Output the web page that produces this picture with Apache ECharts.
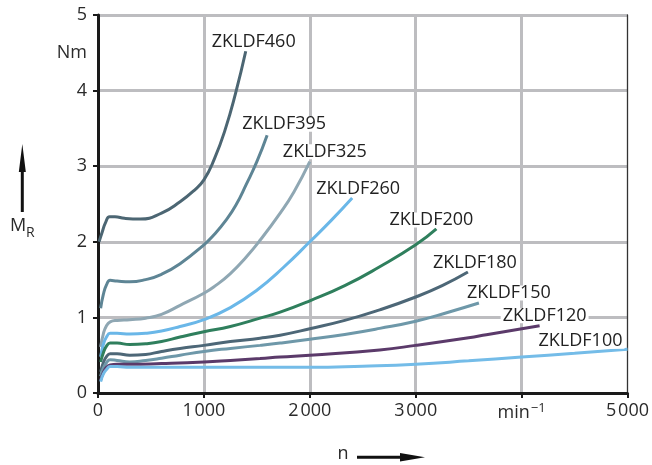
<!DOCTYPE html>
<html><head><meta charset="utf-8">
<script src="https://cdn.jsdelivr.net/npm/echarts@6/dist/echarts.min.js"></script>
<style>html,body{margin:0;padding:0;background:#fff}#c{width:652px;height:465px}</style>
</head><body><div id="c"></div>
<script>
// ---- data ----
const seriesNames = ['ZKLDF460','ZKLDF395','ZKLDF325','ZKLDF260','ZKLDF200','ZKLDF180','ZKLDF150','ZKLDF120','ZKLDF100'];
const n460 = [10, 40, 70, 110, 160, 250, 400, 600, 775, 900, 1000, 1100, 1200, 1300, 1395];
const m460 = [2.0, 2.13, 2.25, 2.33, 2.33, 2.31, 2.30, 2.38, 2.53, 2.67, 2.82, 3.10, 3.48, 3.97, 4.52];
const n395 = [25, 50, 80, 115, 180, 300, 450, 600, 775, 1000, 1100, 1200, 1300, 1400, 1500, 1597];
const m395 = [1.12, 1.30, 1.43, 1.49, 1.48, 1.47, 1.50, 1.57, 1.71, 1.96, 2.10, 2.27, 2.48, 2.76, 3.06, 3.41];
const n325 = [25, 50, 80, 115, 180, 300, 450, 600, 775, 1000, 1100, 1250, 1400, 1530, 1720, 1850, 2000];
const m325 = [0.61, 0.78, 0.89, 0.94, 0.96, 0.97, 0.99, 1.04, 1.16, 1.32, 1.41, 1.58, 1.80, 2.02, 2.38, 2.66, 3.06];
const n260 = [25, 50, 80, 115, 180, 300, 450, 600, 775, 1000, 1250, 1500, 1750, 2000, 2200, 2400];
const m260 = [0.48, 0.64, 0.74, 0.79, 0.79, 0.78, 0.79, 0.82, 0.88, 0.97, 1.13, 1.36, 1.66, 2.00, 2.28, 2.58];
const n200 = [25, 50, 80, 115, 180, 300, 450, 600, 775, 1000, 1250, 1530, 1720, 2000, 2330, 2660, 3000, 3195];
const m200 = [0.41, 0.53, 0.62, 0.66, 0.66, 0.64, 0.65, 0.68, 0.74, 0.81, 0.88, 0.99, 1.07, 1.22, 1.42, 1.67, 1.96, 2.17];
const n180 = [25, 50, 80, 115, 180, 300, 450, 600, 775, 1000, 1250, 1530, 1720, 2000, 2330, 2660, 3000, 3250, 3493];
const m180 = [0.28, 0.40, 0.48, 0.52, 0.52, 0.50, 0.51, 0.55, 0.59, 0.63, 0.68, 0.725, 0.765, 0.85, 0.96, 1.10, 1.27, 1.42, 1.60];
const n150 = [25, 50, 80, 115, 180, 300, 450, 600, 775, 1000, 1250, 1530, 1720, 2000, 2330, 2660, 3000, 3300, 3597];
const m150 = [0.22, 0.33, 0.40, 0.44, 0.43, 0.41, 0.43, 0.46, 0.50, 0.55, 0.59, 0.63, 0.66, 0.71, 0.775, 0.855, 0.95, 1.065, 1.19];
const n120 = [25, 50, 80, 115, 180, 300, 600, 1000, 1250, 1530, 1720, 2000, 2660, 3000, 3500, 3667, 4170];
const m120 = [0.17, 0.27, 0.34, 0.37, 0.38, 0.38, 0.39, 0.41, 0.43, 0.455, 0.475, 0.50, 0.57, 0.63, 0.73, 0.77, 0.89];
const n100 = [25, 50, 80, 115, 180, 300, 600, 1000, 1500, 2000, 2500, 3000, 3500, 4000, 4500, 5000];
const m100 = [0.15, 0.25, 0.31, 0.35, 0.35, 0.34, 0.34, 0.34, 0.34, 0.34, 0.355, 0.38, 0.425, 0.475, 0.525, 0.58];
const nValues = [n460, n395, n325, n260, n200, n180, n150, n120, n100];
const mValues = [m460, m395, m325, m260, m200, m180, m150, m120, m100];
const xTickValues = [0, 1000, 2000, 3000, 4000, 5000];
const yTickValues = [0, 1, 2, 3, 4, 5];
const yLabelValues = [0, 1, 2, 3, 4, 4.5, 5];

// ---- style ----
const colors = ['#4c6673','#5e8595','#8fa7b3','#6ab7e8','#2f7f5d','#4d6777','#6e98a9','#5b3a6a','#74bce8'];
const labelOffsets = [[8,-9],[17,-11],[15,-10],[6,-9],[-5,-9],[7,-9],[30,-10],[5,-10],[-47,-8]];
const FONT = 'Open Sans';

const series = seriesNames.map((name, k) => {
  const ns = nValues[k], ms = mValues[k];
  const last = ns.length - 1;
  return {
    name, type: 'line', smooth: 0.5, symbol: 'none', showSymbol: false,
    lineStyle: { color: colors[k], width: 3 },
    data: ns.map((x, i) => [x, ms[i]]),
    markPoint: {
      silent: true, symbol: 'circle', symbolSize: 0,
      data: [{ coord: [ns[last], ms[last]] }],
      label: {
        show: true, formatter: name, position: 'inside', offset: labelOffsets[k],
        color: '#222', fontSize: 18, fontFamily: FONT, textBorderWidth: 0,
        backgroundColor: '#fff', padding: [0, 2], lineHeight: 15
      }
    }
  };
});

const chart = echarts.init(document.getElementById('c'));
chart.setOption({
  animation: false,
  backgroundColor: '#fff',
  grid: { left: 98, right: 24, top: 15, bottom: 72, containLabel: false },
  xAxis: {
    type: 'value', min: 0, max: 5000, interval: 1000,
    axisLine: { show: true, onZero: false, lineStyle: { color: '#1a1a1a', width: 3 } },
    axisTick: { show: true, length: 5, lineStyle: { color: '#1a1a1a', width: 2 }, customValues: xTickValues },
    axisLabel: {
      margin: 9, fontSize: 18, fontFamily: FONT, color: '#2a2a2a', customValues: xTickValues,
      formatter: v => v === 4000 ? 'min{s|\u22121}' : String(v).replace(/(\d)(\d{3})$/, '$1\u200A$2'),
      rich: { s: { fontSize: 13, fontFamily: FONT, color: '#2a2a2a', verticalAlign: 'top', padding: [0, 0, 8, 1] } }
    },
    splitLine: { show: true, showMinLine: false, showMaxLine: false, lineStyle: { color: '#bdbdc0', width: 3 } }
  },
  yAxis: [{
    type: 'value', min: 0, max: 5, interval: 1,
    axisLine: { show: true, onZero: false, lineStyle: { color: '#1a1a1a', width: 3 } },
    axisTick: { show: true, length: 5, lineStyle: { color: '#1a1a1a', width: 2 }, customValues: yTickValues },
    axisLabel: {
      margin: 11, fontSize: 18, fontFamily: FONT, color: '#2a2a2a', customValues: yLabelValues,
      formatter: v => v === 4.5 ? 'Nm' : String(v)
    },
    splitLine: { show: true, showMinLine: false, showMaxLine: true, lineStyle: { color: '#bdbdc0', width: 3 } }
  }, {
    type: 'value', min: 0, max: 5, interval: 1, position: 'right',
    axisLine: { show: true, onZero: false, lineStyle: { color: '#333', width: 1.3 } },
    axisTick: { show: false }, axisLabel: { show: false }, splitLine: { show: false }
  }],
  series,
  graphic: [
    { type: 'line', silent: true, shape: { x1: 22.3, y1: 212, x2: 22.3, y2: 168 }, style: { stroke: '#111', lineWidth: 3 } },
    { type: 'polygon', silent: true, shape: { points: [[22.3, 144], [25.8, 172], [18.8, 172]] }, style: { fill: '#111' } },
    { type: 'text', silent: true, x: 10, y: 226, style: { text: 'M', font: '18px "Open Sans"', fill: '#2a2a2a', verticalAlign: 'middle', align: 'left' } },
    { type: 'text', silent: true, x: 26, y: 233, style: { text: 'R', font: '14px "Open Sans"', fill: '#2a2a2a', verticalAlign: 'middle', align: 'left' } },
    { type: 'text', silent: true, x: 343, y: 454, style: { text: 'n', font: '18px "Open Sans"', fill: '#2a2a2a', verticalAlign: 'middle', align: 'center' } },
    { type: 'line', silent: true, shape: { x1: 357, y1: 457.3, x2: 404, y2: 457.3 }, style: { stroke: '#111', lineWidth: 3 } },
    { type: 'polygon', silent: true, shape: { points: [[425, 457.3], [400, 453], [400, 461.6]] }, style: { fill: '#111' } }
  ]
});
</script>
</body></html>
